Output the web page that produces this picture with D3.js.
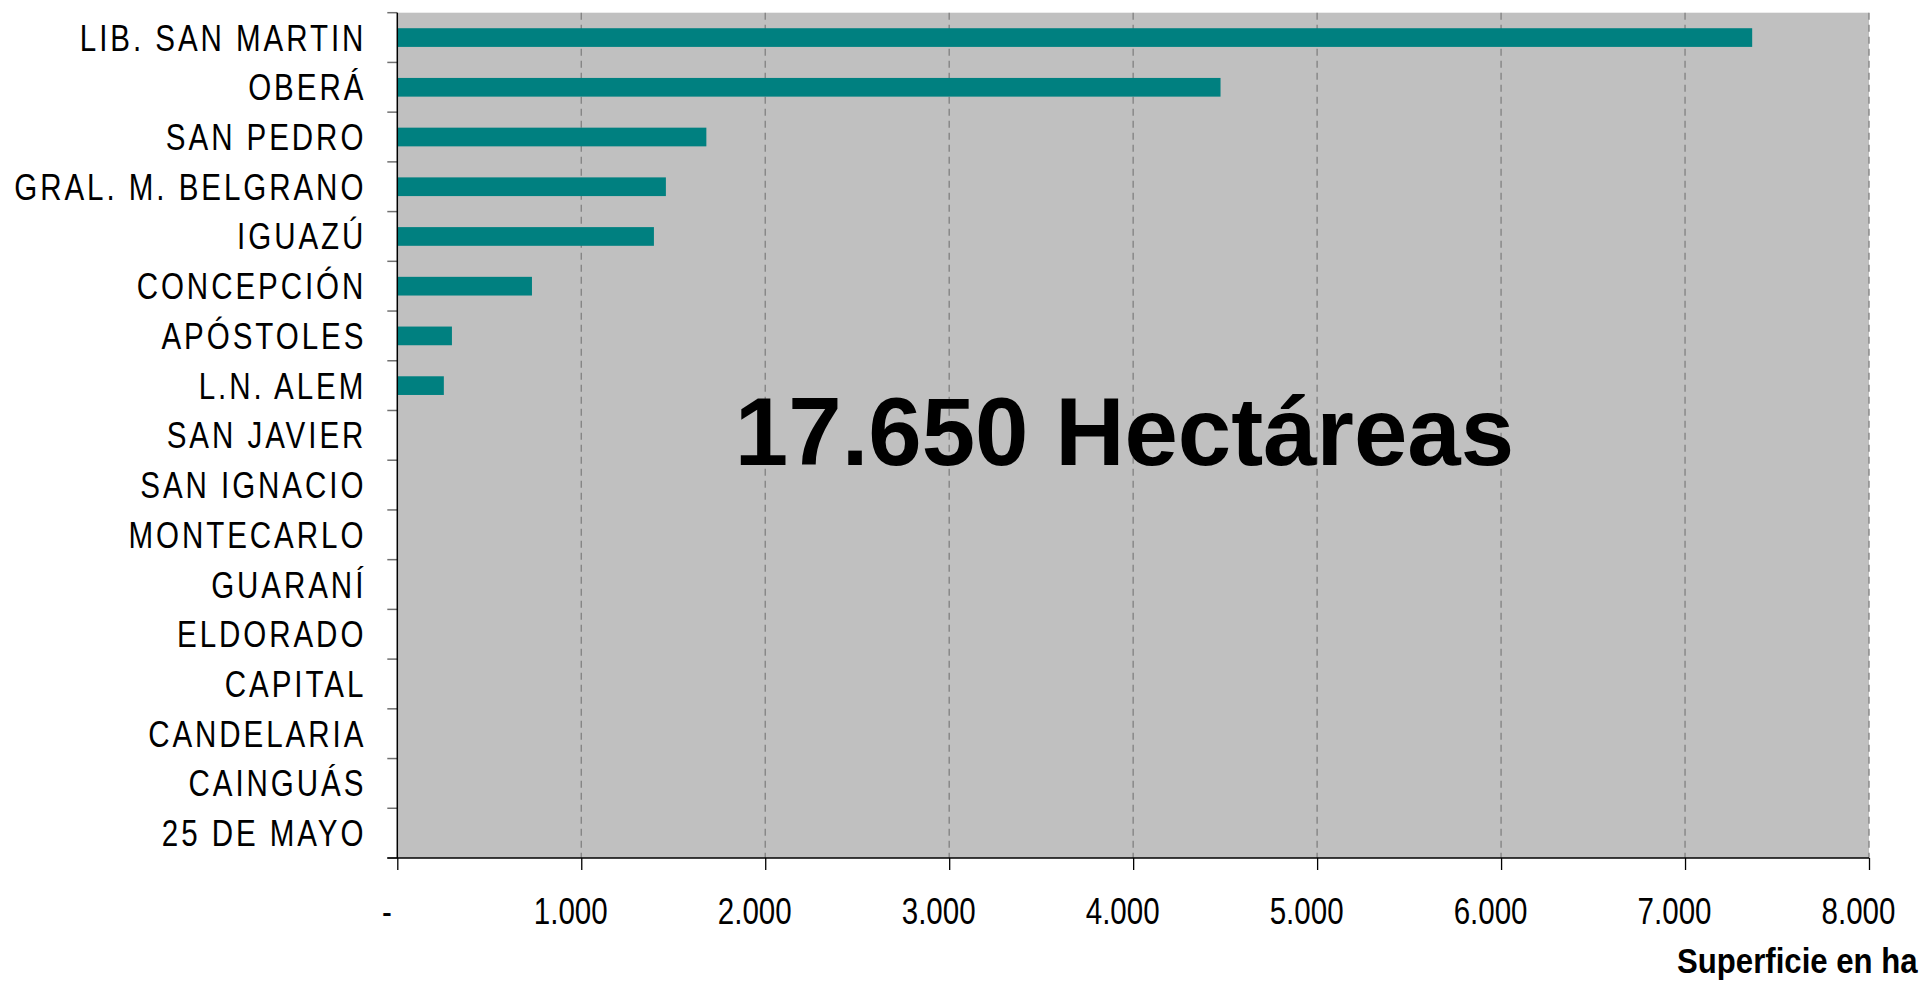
<!DOCTYPE html>
<html>
<head>
<meta charset="utf-8">
<script src="https://cdn.jsdelivr.net/npm/d3@7"></script>
<style>
  body { margin: 0; background: #fff; }
  .cat text { font-family: "Liberation Sans", Arial, sans-serif; font-size: 36px; letter-spacing: 3.6px; fill: #000; }
</style>
</head>
<body>
<div id="chart"></div>
<script>
// departamentos, de arriba hacia abajo
var categories = ["LIB. SAN MARTIN", "OBERÁ", "SAN PEDRO", "GRAL. M. BELGRANO", "IGUAZÚ",
  "CONCEPCIÓN", "APÓSTOLES", "L.N. ALEM", "SAN JAVIER", "SAN IGNACIO", "MONTECARLO",
  "GUARANÍ", "ELDORADO", "CAPITAL", "CANDELARIA", "CAINGUÁS", "25 DE MAYO"];
// superficie en ha
var values = [7365, 4475, 1680, 1460, 1395, 732, 297, 253, 0, 0, 0, 0, 0, 0, 0, 0, 0];
var xTicks = [0, 1000, 2000, 3000, 4000, 5000, 6000, 7000, 8000];
var totalLabel = "17.650 Hectáreas";
var xTitle = "Superficie en ha";

var width = 1921, height = 982;
var margin = { top: 12.7, right: 52, bottom: 124, left: 397.3 };
var innerWidth = width - margin.left - margin.right,
  innerHeight = height - margin.top - margin.bottom;
var narrow = 0.82; // no narrow font installed, squeeze the regular one

// squeeze a text horizontally in place (keeps its box honest)
function squeeze(sel, k) {
  sel.each(function () {
    var len = this.getComputedTextLength();
    d3.select(this)
      .attr("textLength", len * k)
      .attr("lengthAdjust", "spacingAndGlyphs");
  });
}

var data = categories.map(function (c, i) { return { name: c, value: values[i] }; });

var svg = d3.select("#chart").append("svg")
  .attr("width", width)
  .attr("height", height)
  .style("display", "block");

var g = svg.append("g")
  .attr("transform", "translate(" + margin.left + "," + margin.top + ")");

var xScale = d3.scaleLinear().domain([0, 8000]).range([0, innerWidth]);
var yScale = d3.scaleBand().domain(categories).range([0, innerHeight])
  .paddingInner(0.624).paddingOuter(0.312);
var step = yScale.step();

// plot area background
g.append("rect")
  .attr("width", innerWidth)
  .attr("height", innerHeight)
  .attr("fill", "#c0c0c0");

// dashed gridlines
g.append("g")
  .selectAll("line")
  .data(xTicks.slice(1))
  .enter()
  .append("line")
  .attr("x1", function (d) { return xScale(d); })
  .attr("x2", function (d) { return xScale(d); })
  .attr("y1", 0)
  .attr("y2", innerHeight)
  .attr("stroke", "#808080")
  .attr("stroke-width", 1.3)
  .attr("stroke-dasharray", "7,5");

// bars
g.append("g")
  .selectAll("rect")
  .data(data)
  .enter()
  .append("rect")
  .attr("x", 0)
  .attr("y", function (d) { return yScale(d.name); })
  .attr("width", function (d) { return xScale(d.value); })
  .attr("height", yScale.bandwidth())
  .attr("fill", "#008080");

// y axis: ticks at row boundaries
var yBounds = d3.range(categories.length + 1);
g.append("g")
  .selectAll("line")
  .data(yBounds)
  .enter()
  .append("line")
  .attr("x1", -10)
  .attr("x2", 0)
  .attr("y1", function (i) { return i * step; })
  .attr("y2", function (i) { return i * step; })
  .attr("stroke", "#707070")
  .attr("stroke-width", 1.5);

g.append("line")
  .attr("x1", 0).attr("x2", 0)
  .attr("y1", 0).attr("y2", innerHeight)
  .attr("stroke", "#000")
  .attr("stroke-width", 1.5);

var cat = g.append("g").attr("class", "cat");
cat.selectAll("text")
  .data(categories)
  .enter()
  .append("text")
  .attr("x", -31)
  .attr("y", function (d) { return yScale(d) + yScale.bandwidth() / 2 + 13; })
  .attr("text-anchor", "end")
  .text(function (d) { return d; })
  .call(squeeze, narrow);

// x axis
var fmt = d3.formatLocale({ decimal: ",", thousands: ".", grouping: [3], currency: ["$", ""] }).format(",.0f");
var xAxis = d3.axisBottom(xScale)
  .tickValues(xTicks)
  .tickSize(12)
  .tickSizeOuter(0)
  .tickFormat(function (d) { return d === 0 ? "-" : fmt(d); });

var gX = g.append("g")
  .attr("transform", "translate(0," + innerHeight + ")")
  .call(xAxis);
gX.select(".domain").remove();
gX.selectAll(".tick line").attr("stroke", "#000").attr("stroke-width", 1.3);
gX.selectAll(".tick text")
  .attr("dx", -11)
  .attr("y", 0)
  .attr("dy", 66)
  .attr("fill", "#000")
  .style("font-family", "\"Liberation Sans\", Arial, sans-serif")
  .style("font-size", "36px")
  .call(squeeze, narrow);

g.append("line")
  .attr("x1", -10).attr("x2", innerWidth)
  .attr("y1", innerHeight).attr("y2", innerHeight)
  .attr("stroke", "#000")
  .attr("stroke-width", 1.5);

// big total label
g.append("text")
  .attr("x", 1124.5 - margin.left)
  .attr("y", 465 - margin.top)
  .attr("text-anchor", "middle")
  .style("font-family", "\"Liberation Sans\", Arial, sans-serif")
  .style("font-weight", "bold")
  .style("font-size", "96px")
  .text(totalLabel);

// axis title
svg.append("text")
  .attr("x", 1677)
  .attr("y", 973)
  .style("font-family", "\"Liberation Sans\", Arial, sans-serif")
  .style("font-weight", "bold")
  .style("font-size", "35px")
  .text(xTitle)
  .call(squeeze, 0.89);
</script>
</body>
</html>
